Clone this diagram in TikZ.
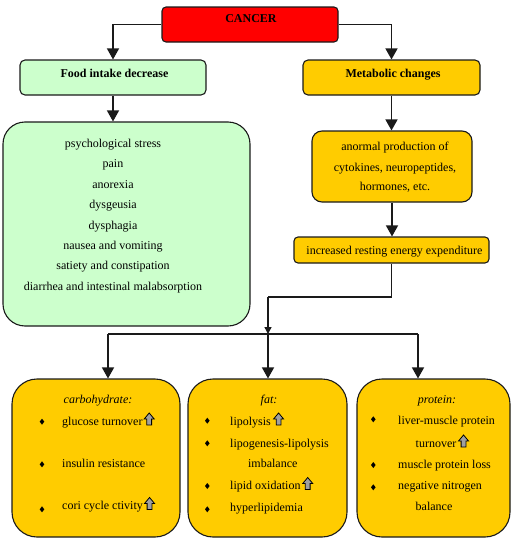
\documentclass[tikz,border=0pt]{standalone}
\usepackage{fontspec}
\setmainfont{Liberation Serif}
\usetikzlibrary{arrows.meta}
\definecolor{cancerred}{HTML}{FF0000}
\definecolor{mintgreen}{HTML}{CCFFCC}
\definecolor{amber}{HTML}{FFCC00}
\definecolor{edge}{HTML}{1A1A1A}
\definecolor{icongray}{HTML}{A0A0A0}
\begin{document}
\begin{tikzpicture}[x=1pt,y=-1pt,
  font=\fontsize{12}{14}\selectfont,
  box/.style={draw=edge, line width=1.1pt, inner sep=0pt},
  link/.style={line width=1.4pt, draw=edge},
  conn/.style={link, -{Triangle[width=12pt,length=11pt]}},
  smallconn/.style={link, -{Triangle[width=7pt,length=7pt]}},
  txt/.style={inner sep=0pt, anchor=base},
  item/.style={inner sep=0pt, anchor=base west},
  bulletmark/.pic={\fill[black] (0,-3) -- (2.3,0) -- (0,3) -- (-2.3,0) -- cycle;},
  upicon/.pic={\filldraw[fill=icongray, draw=black, line width=0.8pt, line join=miter]
    (-2.4,0) -- (-2.4,-6) -- (-5,-6) -- (0,-12) -- (5,-6) -- (2.4,-6) -- (2.4,0) -- cycle;}
]
\useasboundingbox (0,0) rectangle (511,538);

% ---- boxes ----
\node[box, fill=cancerred, rounded corners=4pt, minimum width=176pt, minimum height=35pt] (cancer) at (250,24.5) {};
\node[box, fill=mintgreen, rounded corners=5pt, minimum width=186pt, minimum height=35pt] (food) at (113,77.5) {};
\node[box, fill=amber, rounded corners=5pt, minimum width=177pt, minimum height=35pt] (meta) at (391.5,77.5) {};
\node[box, fill=mintgreen, rounded corners=22pt, minimum width=247pt, minimum height=204pt] (symptoms) at (126.5,224) {};
\node[box, fill=amber, rounded corners=10pt, minimum width=160pt, minimum height=71pt] (anormal) at (392,166.5) {};
\node[box, fill=amber, rounded corners=4pt, minimum width=195pt, minimum height=26pt] (ree) at (391.5,250) {};
\node[box, fill=amber, rounded corners=25pt, minimum width=168pt, minimum height=158pt] (carb) at (96,458) {};
\node[box, fill=amber, rounded corners=25pt, minimum width=159pt, minimum height=158pt] (fat) at (267.5,458) {};
\node[box, fill=amber, rounded corners=25pt, minimum width=153pt, minimum height=158pt] (prot) at (433.5,458) {};

% ---- headings ----
\node[txt] (tcancer) at (251,23) {\textbf{CANCER}};
\node[txt] (tfood) at (114.5,77) {\textbf{Food intake decrease}};
\node[txt] (tmeta) at (393,77) {\textbf{Metabolic changes}};

% ---- causes of reduced intake ----
\foreach \t [count=\i] in {psychological stress, pain, anorexia, dysgeusia, dysphagia,
    nausea and vomiting, satiety and constipation, diarrhea and intestinal malabsorption}
  \node[txt] (sym\i) at (113,{147.5+20.4*(\i-1)}) {\t};

% ---- metabolic chain ----
\node[txt] (an1) at (395,150) {anormal production of};
\node[txt] (an2) at (395,171) {cytokines, neuropeptides,};
\node[txt] (an3) at (395,190) {hormones, etc.};
\node[txt] (tree) at (394.5,254) {increased resting energy expenditure};

% ---- carbohydrate ----
\node[txt] (tcarb) at (98,403) {\itshape carbohydrate:};
\node[item] (c1) at (62,425) {glucose turnover};
\node[item] (c2) at (62,467.5) {insulin resistance};
\node[item] (c3) at (62,509.5) {cori cycle ctivity};
\pic at (42,421.7) {bulletmark};
\pic at (42,464.3) {bulletmark};
\pic at (42,509.3) {bulletmark};
\pic at ([xshift=6.5pt]c1.base east) {upicon};
\pic at ([xshift=6.5pt]c3.base east) {upicon};

% ---- fat ----
\node[txt] (tfat) at (269,403) {\itshape fat:};
\node[item] (f1) at (230,425) {lipolysis};
\node[item] (f2) at (230,447.5) {lipogenesis-lipolysis};
\node[txt] (f3) at (272.8,467.5) {imbalance};
\node[item] (f4) at (230,489.5) {lipid oxidation};
\node[item] (f5) at (230,511) {hyperlipidemia};
\pic at (207.3,420.7) {bulletmark};
\pic at (207.3,443.3) {bulletmark};
\pic at (207.3,486) {bulletmark};
\pic at (207.3,509.3) {bulletmark};
\pic at ([xshift=7.5pt]f1.base east) {upicon};
\pic at ([xshift=7pt]f4.base east) {upicon};

% ---- protein ----
\node[txt] (tprot) at (437,403) {\itshape protein:};
\node[item] (p1) at (398,424.5) {liver-muscle protein};
\node[txt] (p2) at (436,447) {turnover};
\node[item] (p3) at (398,468) {muscle protein loss};
\node[item] (p4) at (398,489.5) {negative nitrogen};
\node[txt] (p5) at (434,510) {balance};
\pic at (373.3,419.3) {bulletmark};
\pic at (373.3,465) {bulletmark};
\pic at (373.3,487.3) {bulletmark};
\pic at ([xshift=7pt]p2.base east) {upicon};

% ---- connectors ----
\coordinate (bend) at (268,297);
\coordinate (hub) at (268,334);
\coordinate (busL) at (108,334);
\coordinate (busR) at (418,334);

\draw[conn] (cancer.west) -| (food.north);
\draw[conn] (cancer.east) -| (meta.north);
\draw[conn] (food.south) -- (food.south |- symptoms.north);
\draw[conn] (meta.south) -- (meta.south |- anormal.north);
\draw[conn] (anormal.south) -- (anormal.south |- ree.north);
\draw[link] (ree.south) |- (bend);
\draw[smallconn] (bend) -- (hub);
\draw[link] (busL) -- (busR);
\draw[conn] (busL) -- (busL |- carb.north);
\draw[conn] (hub) -- (hub |- fat.north);
\draw[conn] (busR) -- (busR |- prot.north);
\end{tikzpicture}
\end{document}
